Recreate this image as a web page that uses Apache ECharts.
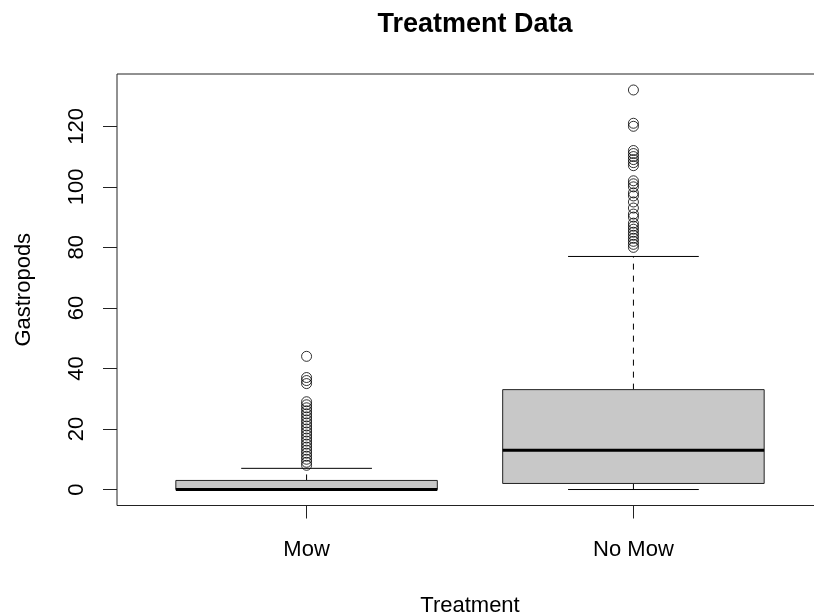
<!DOCTYPE html>
<html>
<head>
<meta charset="utf-8">
<title>Treatment Data</title>
<script src="https://cdn.jsdelivr.net/npm/echarts@6/dist/echarts.min.js"></script>
<style>
  html, body { margin: 0; padding: 0; background: #fff; }
  #chart { width: 814px; height: 615px; }
</style>
</head>
<body>
<div id="chart"></div>
<script>
// box statistics per treatment
const categories = ['Mow', 'No Mow'];
const lowerWhisker = [0, 0];
const q1 = [0, 2];
const median = [0, 13];
const q3 = [3, 33];
const upperWhisker = [7, 77];

// outliers
const mowOutliers = [8, 9, 10, 11, 12, 13, 14, 15, 16, 17, 18, 19, 20, 21, 22, 23, 24, 25, 26, 27, 28, 29, 35, 36, 37, 44];
const noMowOutliers = [80, 81, 82, 83, 84, 85, 86, 87, 88, 90, 91, 93, 95, 97, 98, 100, 101, 102, 107, 108, 109, 110, 111, 112, 120, 121, 132];

const yTicks = [0, 20, 40, 60, 80, 100, 120];
const xTicks = [1, 2];

const font = "'Liberation Sans', Arial, Helvetica, sans-serif";

const chart = echarts.init(document.getElementById('chart'));

const boxData = categories.map((c, i) => [i + 1, lowerWhisker[i], q1[i], median[i], q3[i], upperWhisker[i]]);
const outlierData = [
  ...mowOutliers.map(v => [1, v]),
  ...noMowOutliers.map(v => [2, v])
];

function renderBox(params, api) {
  const x = api.value(0);
  const lw = api.coord([x, api.value(1)]);
  const b1 = api.coord([x, api.value(2)]);
  const md = api.coord([x, api.value(3)]);
  const b3 = api.coord([x, api.value(4)]);
  const uw = api.coord([x, api.value(5)]);
  const half = api.size([0.8, 0])[0] / 2;
  const cap = half / 2;
  const cx = lw[0];
  const thin = { stroke: '#000', lineWidth: 1 };
  const dashed = { stroke: '#000', lineWidth: 1, lineDash: [6, 6] };
  return {
    type: 'group',
    children: [
      { type: 'line', shape: { x1: cx, y1: b3[1], x2: cx, y2: uw[1] }, style: dashed },
      { type: 'line', shape: { x1: cx, y1: b1[1], x2: cx, y2: lw[1] }, style: dashed },
      { type: 'line', shape: { x1: cx - cap, y1: uw[1], x2: cx + cap, y2: uw[1] }, style: thin },
      { type: 'line', shape: { x1: cx - cap, y1: lw[1], x2: cx + cap, y2: lw[1] }, style: thin },
      {
        type: 'rect',
        shape: { x: cx - half, y: b3[1], width: half * 2, height: b1[1] - b3[1] },
        style: { fill: '#c8c8c8', stroke: '#222', lineWidth: 1 }
      },
      { type: 'line', shape: { x1: cx - half, y1: md[1], x2: cx + half, y2: md[1] }, style: { stroke: '#000', lineWidth: 3 } }
    ]
  };
}

const option = {
  animation: false,
  backgroundColor: '#fff',
  textStyle: { fontFamily: font },
  title: {
    text: 'Treatment Data',
    left: 470,
    textAlign: 'center',
    top: 6,
    textStyle: { fontSize: 27, fontWeight: 'bold', color: '#000', fontFamily: font }
  },
  grid: {
    left: 117,
    top: 74,
    right: -9,
    bottom: 109.5,
    containLabel: false,
    outerBoundsMode: 'none',
    show: true,
    borderColor: '#222',
    borderWidth: 1,
    backgroundColor: 'transparent'
  },
  xAxis: {
    type: 'value',
    min: 0.42,
    max: 2.58,
    splitLine: { show: false },
    axisLine: { show: false, onZero: false },
    axisTick: { show: true, customValues: xTicks, length: 13, lineStyle: { color: '#222' } },
    axisLabel: {
      customValues: xTicks,
      formatter: v => categories[Math.round(v) - 1],
      fontSize: 22,
      color: '#000',
      margin: 33,
      fontFamily: font
    },
    name: 'Treatment',
    nameLocation: 'middle',
    nameGap: 89,
    nameTextStyle: { fontSize: 22, color: '#000', fontFamily: font }
  },
  yAxis: {
    type: 'value',
    min: -5.28,
    max: 137.28,
    splitLine: { show: false },
    axisLine: { show: false, onZero: false },
    axisTick: { show: true, customValues: yTicks, length: 14, lineStyle: { color: '#222' } },
    axisLabel: {
      customValues: yTicks,
      rotate: 90,
      fontSize: 22,
      color: '#000',
      margin: 29,
      fontFamily: font
    },
    name: 'Gastropods',
    nameLocation: 'middle',
    nameGap: 82,
    nameTextStyle: { fontSize: 22, color: '#000', fontFamily: font }
  },
  series: [
    {
      type: 'custom',
      renderItem: renderBox,
      encode: { x: 0, y: [1, 2, 3, 4, 5] },
      data: boxData,
      z: 2
    },
    {
      type: 'scatter',
      data: outlierData,
      symbol: 'circle',
      symbolSize: 10,
      itemStyle: { color: 'transparent', borderColor: '#000', borderWidth: 1 },
      z: 3
    }
  ]
};

chart.setOption(option);
</script>
</body>
</html>
